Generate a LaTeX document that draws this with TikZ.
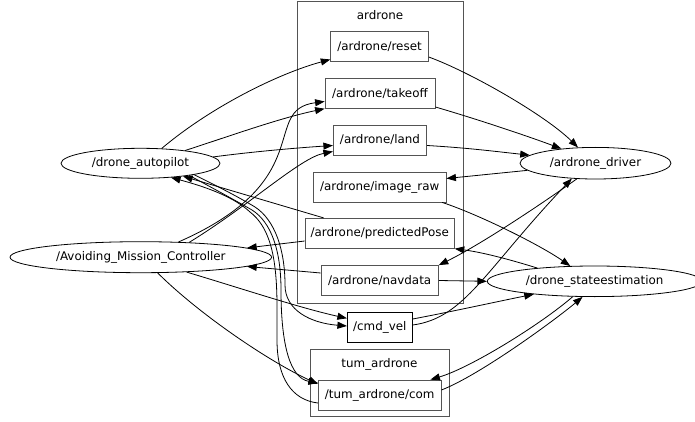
\documentclass[tikz,border=0pt]{standalone}
\usepackage{fontspec}
\setmainfont{DejaVu Sans}
\usetikzlibrary{arrows.meta,shapes.geometric,calc}
\definecolor{boxgray}{gray}{0.33}
\begin{document}
\begin{tikzpicture}[x=1pt,y=-1pt,
  every node/.style={font=\fontsize{11.9}{14}\selectfont},
  topic/.style={draw=boxgray,line width=0.8pt,rectangle,inner sep=0pt,minimum height=30},
  gnode/.style={draw,ellipse,line width=0.8pt,inner sep=0pt,minimum height=30},
  cluster/.style={draw=boxgray,line width=0.8pt,rectangle,inner sep=0pt},
  conn/.style={line width=0.8pt,-{Triangle[length=9.5pt,width=7pt]}}]

\useasboundingbox[fill=white] (0,0) rectangle (695,422);

% clusters
\node[cluster,minimum width=166.3,minimum height=302.3] (clA) at (380.2,152.2) {};
\node (clAlab) at (380,15) {ardrone};
\node[cluster,minimum width=138.3,minimum height=67.4] (clT) at (379.9,383) {};
\node (clTlab) at (379.5,364) {tum\_ardrone};

% topics
\node[topic,minimum width=97.6] (reset) at (379.5,46.7) {/ardrone/reset};
\node[topic,minimum width=110] (takeoff) at (380,93.3) {/ardrone/takeoff};
\node[topic,minimum width=93.4] (land) at (380,140) {/ardrone/land};
\node[topic,minimum width=132.7] (image) at (379.7,187) {/ardrone/image\_raw};
\node[topic,minimum width=149.3] (pose) at (379.7,233.3) {/ardrone/predictedPose};
\node[topic,minimum width=117.3] (navdata) at (379.7,280.5) {/ardrone/navdata};
\node[topic,draw=black,minimum width=65] (cmdvel) at (379.8,327) {/cmd\_vel};
\node[topic,minimum width=122.7] (com) at (379.7,395) {/tum\_ardrone/com};

% ros nodes
\node[gnode,minimum width=159] (dap) at (140.5,163.3) {/drone\_autopilot};
\node[gnode,minimum width=261.6,minimum height=31] (amc) at (140.8,257.2) {/Avoiding\_Mission\_Controller};
\node[gnode,minimum width=151,minimum height=31.6] (drv) at (595.5,163.2) {/ardrone\_driver};
\node[gnode,minimum width=214.8,minimum height=30.6] (dse) at (594.7,281.3) {/drone\_stateestimation};

% edges
\draw[conn] (dap.35.4) .. controls (212,106) and (280,73) .. ($(reset.west)+(0,12.8)$);
\draw[conn] (dap.16.6) .. controls (230,136) and (280,118) .. (takeoff.south west);
\draw[conn] (dap.5.7) .. controls (250,152) and (295,148) .. ($(land.west)+(0,5.5)$);
\draw[conn] (amc.22.8) .. controls (320,180) and (260,110) .. ($(takeoff.west)+(0,8.2)$);
\draw[conn] (amc.17.1) .. controls (250,205) and (300,158) .. ($(land.west)+(0,11.5)$);
\draw[conn] ($(reset.east)+(0,10.3)$) .. controls (470,72) and (545,115) .. (drv.138.8);
\draw[conn] ($(takeoff.east)+(0,13.7)$) .. controls (480,120) and (530,137) .. (drv.157.9);
\draw[conn] ($(land.east)+(0,5.5)$) .. controls (470,148) and (500,152) .. (drv.173.7);
\draw[conn] (drv.186.8) -- ($(image.east)+(0,-8.5)$);
\draw[conn] ($(image.south east)+(-4.3,0)$) .. controls (480,215) and (540,245) .. (dse.148.2);
\draw[conn] ($(pose.north west)+(19,0)$) -- (dap.-17.2);
\draw[conn] ($(pose.west)+(0,7.7)$) -- (amc.5.9);
\draw[conn] (dse.167) .. controls (505,258) and (480,252) .. (pose.south east);
\draw[conn] (drv.220.5) .. controls (540,205) and (480,245) .. (navdata.north east);
\draw[conn] ($(navdata.west)+(0,-7.5)$) -- (amc.-5);
\draw[conn] (navdata.east) -- (dse.west);
\draw[conn] (amc.-18.5) .. controls (240,288) and (300,308) .. ($(cmdvel.west)+(0,-8.7)$);
\draw[conn] (dap.-12.7) .. controls (225,190) and (240,198) .. (255,207)
  .. controls (275,220) and (285,250) .. (285,285)
  .. controls (285,310) and (310,323) .. ($(cmdvel.west)+(0,-1)$);
\draw[conn] (dap.-14.9) .. controls (220,192) and (238,202) .. (252,210)
  .. controls (271,222) and (281,250) .. (281,290)
  .. controls (281,345) and (290,378) .. ($(com.west)+(0,-12)$);
\draw[conn] ($(com.west)+(0,8)$) .. controls (292,400) and (277,378) .. (277,340)
  .. controls (277,290) and (280,235) .. (250,212)
  .. controls (235,198) and (210,188) .. (dap.-25.3);
\draw[conn] ($(cmdvel.east)+(0,-2)$) .. controls (465,318) and (485,270) .. (drv.213.4);
\draw[conn] ($(cmdvel.east)+(0,-8)$) .. controls (450,312) and (500,301) .. (dse.192.3);
\draw[conn] (dse.215.9) .. controls (540,325) and (470,368) .. ($(com.north east)+(-11,0)$);
\draw[conn] ($(com.east)+(0,-5)$) .. controls (480,375) and (555,320) .. (dse.232.8);
\draw[conn] (amc.-43.7) .. controls (200,315) and (270,362) .. ($(com.west)+(0,-11)$);
\end{tikzpicture}
\end{document}
